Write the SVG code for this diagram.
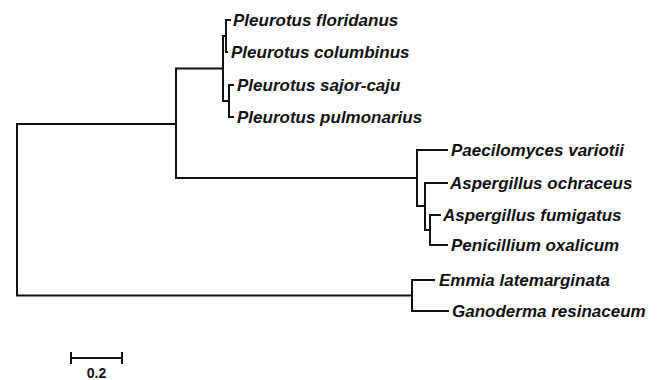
<svg xmlns="http://www.w3.org/2000/svg" width="657" height="380" viewBox="0 0 657 380">
<style>
.br{fill:none;stroke:#111;stroke-width:2;stroke-linecap:square;stroke-linejoin:miter}
.lb{font-family:"Liberation Sans",Arial,sans-serif;font-size:17px;font-weight:bold;font-style:italic;fill:#111}
.sc{font-family:"Liberation Sans",Arial,sans-serif;font-size:14px;font-weight:bold;fill:#111}
</style>
<rect width="657" height="380" fill="#fff"/>
<g id="connectors">
<path class="br" d="M176,124 H17 V295.5 H412"/>
<path class="br" d="M223,68.5 H176 V178 H417"/>
<path class="br" d="M226,36 H223 V101 H229"/>
<path class="br" d="M230,20 H226 V52 H227"/>
<path class="br" d="M233,85 H229 V117 H233"/>
<path class="br" d="M447,150 H417 V206 H425"/>
<path class="br" d="M447,183 H425 V230 H430"/>
<path class="br" d="M440,215 H430 V245 H447"/>
<path class="br" d="M434,280 H412 V311 H448"/>
</g>
<g id="n-floridanus"><text class="lb" x="233" y="26">Pleurotus floridanus</text></g>
<g id="n-columbinus"><text class="lb" x="231" y="58">Pleurotus columbinus</text></g>
<g id="n-sajorcaju"><text class="lb" x="237" y="91">Pleurotus sajor-caju</text></g>
<g id="n-pulmonarius"><text class="lb" x="237" y="123">Pleurotus pulmonarius</text></g>
<g id="n-paecilomyces"><text class="lb" x="451" y="156">Paecilomyces variotii</text></g>
<g id="n-ochraceus"><text class="lb" x="450" y="189">Aspergillus ochraceus</text></g>
<g id="n-fumigatus"><text class="lb" x="443" y="221">Aspergillus fumigatus</text></g>
<g id="n-oxalicum"><text class="lb" x="451" y="251">Penicillium oxalicum</text></g>
<g id="n-emmia"><text class="lb" x="439" y="286">Emmia latemarginata</text></g>
<g id="n-ganoderma"><text class="lb" x="452" y="317">Ganoderma resinaceum</text></g>
<g id="scalebar">
<path class="br" d="M71,358 H122 M71,353 V363 M122,353 V363"/>
<text class="sc" x="96.5" y="378" text-anchor="middle">0.2</text>
</g>
</svg>
